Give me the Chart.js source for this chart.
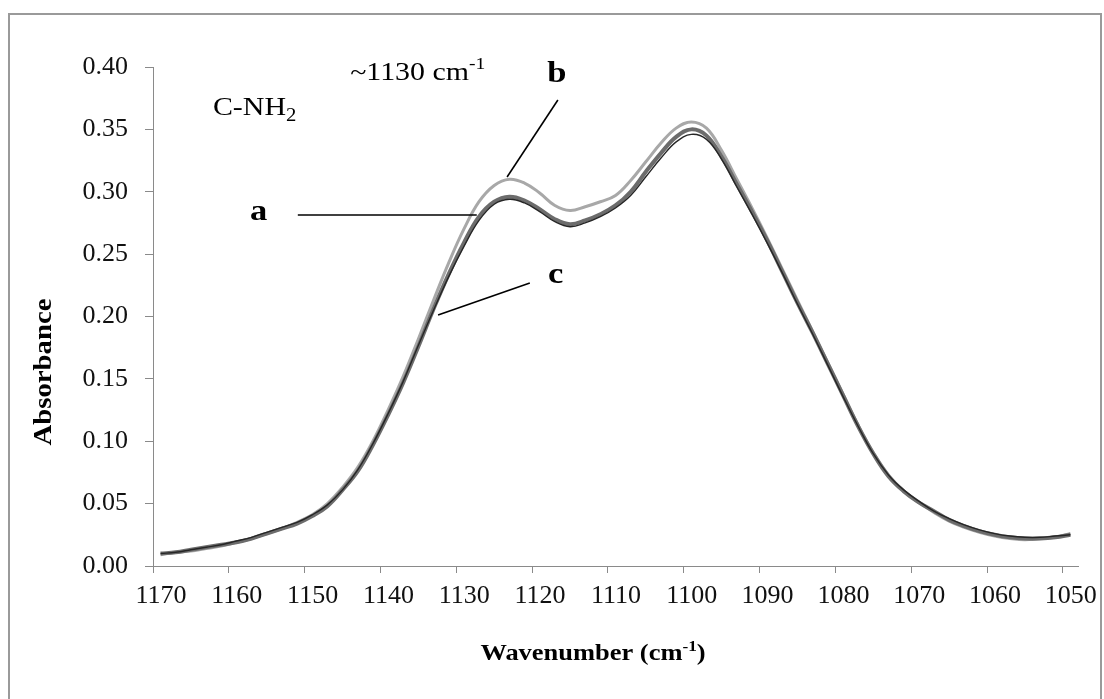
<!DOCTYPE html>
<html>
<head>
<meta charset="utf-8">
<script src="https://cdn.jsdelivr.net/npm/chart.js@4.4.0/dist/chart.umd.min.js"></script>
<style>
  html, body { margin: 0; padding: 0; background: #fff; }
  #wrap { position: relative; width: 1104px; height: 699px; }
</style>
</head>
<body>
<div id="wrap"><canvas id="Chart"></canvas></div>
<script>
// wavenumber (cm-1), every 2 cm-1
const wavenumbers = [1169, 1167, 1165, 1163, 1161, 1159, 1157, 1155, 1153, 1151,
  1149, 1147, 1145, 1143, 1141, 1139, 1137, 1135, 1133, 1131,
  1129, 1127, 1125, 1123, 1121, 1119, 1117, 1115, 1113, 1111,
  1109, 1107, 1105, 1103, 1101, 1099, 1097, 1095, 1093, 1091,
  1089, 1087, 1085, 1083, 1081, 1079, 1077, 1075, 1073, 1071,
  1069, 1067, 1065, 1063, 1061, 1059, 1057, 1055, 1053, 1051, 1049];

const absA = [0.010, 0.011, 0.013, 0.015, 0.017, 0.019, 0.022, 0.026, 0.030, 0.034,
  0.040, 0.048, 0.061, 0.076, 0.097, 0.121, 0.147, 0.176, 0.206, 0.234,
  0.259, 0.280, 0.292, 0.296, 0.293, 0.286, 0.278, 0.274, 0.277, 0.282,
  0.289, 0.300, 0.316, 0.331, 0.344, 0.350, 0.345, 0.328, 0.306, 0.284,
  0.261, 0.236, 0.211, 0.187, 0.162, 0.137, 0.112, 0.090, 0.072, 0.060,
  0.051, 0.044, 0.037, 0.032, 0.028, 0.025, 0.023, 0.022, 0.022, 0.023, 0.025];

const absB = [0.009, 0.011, 0.012, 0.014, 0.016, 0.019, 0.022, 0.026, 0.030, 0.035,
  0.041, 0.050, 0.063, 0.079, 0.100, 0.125, 0.152, 0.182, 0.213, 0.243,
  0.270, 0.292, 0.305, 0.310, 0.307, 0.299, 0.289, 0.285, 0.288, 0.292,
  0.297, 0.309, 0.324, 0.339, 0.351, 0.356, 0.351, 0.333, 0.310, 0.287,
  0.263, 0.238, 0.213, 0.188, 0.163, 0.138, 0.113, 0.091, 0.073, 0.060,
  0.051, 0.043, 0.036, 0.031, 0.027, 0.024, 0.022, 0.021, 0.022, 0.023, 0.026];

const absC = [0.010, 0.011, 0.013, 0.015, 0.017, 0.020, 0.023, 0.027, 0.031, 0.035,
  0.041, 0.049, 0.061, 0.077, 0.098, 0.122, 0.148, 0.177, 0.205, 0.232,
  0.256, 0.277, 0.290, 0.294, 0.291, 0.284, 0.276, 0.272, 0.275, 0.280,
  0.287, 0.297, 0.312, 0.327, 0.340, 0.346, 0.342, 0.326, 0.304, 0.282,
  0.259, 0.235, 0.210, 0.186, 0.161, 0.136, 0.112, 0.090, 0.073, 0.061,
  0.052, 0.044, 0.038, 0.033, 0.029, 0.026, 0.024, 0.023, 0.023, 0.024, 0.025];

const xTickValues = [1170, 1160, 1150, 1140, 1130, 1120, 1110, 1100, 1090, 1080, 1070, 1060, 1050];
const yTickValues = [0, 0.05, 0.10, 0.15, 0.20, 0.25, 0.30, 0.35, 0.40];

const serif = '"Liberation Serif", "Times New Roman", serif';
const STRETCH = 1.15;

function toPoints(ys) {
  return wavenumbers.map((w, i) => ({ x: w, y: ys[i] }));
}

// text in pieces (for sub/superscripts), stretched a bit like the original
function drawParts(ctx, parts, x, y, align) {
  ctx.save();
  let total = 0;
  parts.forEach(p => { ctx.font = p.font; total += ctx.measureText(p.t).width; });
  ctx.translate(x, y);
  ctx.scale(STRETCH, 1);
  let cx = align === 'center' ? -total / 2 : 0;
  ctx.textBaseline = 'alphabetic';
  ctx.textAlign = 'left';
  ctx.fillStyle = '#000';
  parts.forEach(p => {
    ctx.font = p.font;
    ctx.fillText(p.t, cx, p.dy || 0);
    cx += ctx.measureText(p.t).width;
  });
  ctx.restore();
}

const letterFont = 'bold 30px ' + serif;

// notes placed in data coordinates
const notes = [
  { parts: [{ t: 'C-NH', font: '26px ' + serif }, { t: '2', font: '18px ' + serif, dy: 6 }], x: 1162.1, y: 0.3615 },
  { parts: [{ t: '~1130 cm', font: '26px ' + serif }, { t: '-1', font: '17px ' + serif, dy: -11 }], x: 1144.0, y: 0.3896 },
  { parts: [{ t: 'b', font: letterFont }], x: 1118.0, y: 0.388 },
  { parts: [{ t: 'a', font: letterFont }], x: 1157.2, y: 0.2774 },
  { parts: [{ t: 'c', font: letterFont }], x: 1117.9, y: 0.2269 }
];
const leaders = [
  [1116.6, 0.3735, 1123.3, 0.3118],
  [1150.9, 0.2814, 1127.3, 0.2814],
  [1120.3, 0.2269, 1132.4, 0.2012]
];

const notesPlugin = {
  id: 'notes',
  beforeDraw(chart) {
    const ctx = chart.ctx;
    ctx.save();
    ctx.fillStyle = '#fff';
    ctx.fillRect(0, 0, chart.width, chart.height);
    ctx.strokeStyle = '#9a9a9a';
    ctx.lineWidth = 2;
    ctx.strokeRect(9, 14, 1092, 700);
    ctx.restore();
  },
  afterDraw(chart) {
    const ctx = chart.ctx;
    const xs = chart.scales.x, ys = chart.scales.y;
    ctx.save();
    ctx.strokeStyle = '#000';
    ctx.lineWidth = 1.6;
    leaders.forEach(l => {
      ctx.beginPath();
      ctx.moveTo(xs.getPixelForValue(l[0]), ys.getPixelForValue(l[1]));
      ctx.lineTo(xs.getPixelForValue(l[2]), ys.getPixelForValue(l[3]));
      ctx.stroke();
    });
    notes.forEach(n => {
      drawParts(ctx, n.parts, xs.getPixelForValue(n.x), ys.getPixelForValue(n.y), 'left');
    });

    // axis titles
    const titleFont = 'bold 23px ' + serif;
    drawParts(ctx, [{ t: 'Wavenumber (cm', font: titleFont }, { t: '-1', font: 'bold 15px ' + serif, dy: -9 }, { t: ')', font: titleFont }],
      593, 660, 'center');
    ctx.save();
    ctx.translate(51, 372);
    ctx.rotate(-Math.PI / 2);
    drawParts(ctx, [{ t: 'Absorbance', font: 'bold 25px ' + serif }], 0, 0, 'center');
    ctx.restore();
    ctx.restore();
  }
};

const chartData = {
  datasets: [
    { label: 'c', data: toPoints(absC), borderColor: '#262626', borderWidth: 1.4, order: 1 },
    { label: 'a', data: toPoints(absA), borderColor: '#6c6c6c', borderWidth: 4, order: 2 },
    { label: 'b', data: toPoints(absB), borderColor: '#a8a8a8', borderWidth: 3, order: 3 }
  ]
};

const axisColor = '#8a8a8a';

const chartOptions = {
  responsive: true,
  maintainAspectRatio: false,
  animation: false,
  layout: { padding: { left: 0, top: 67, right: 26, bottom: 0 } },
  elements: {
    point: { radius: 0 },
    line: { tension: 0.4, fill: false }
  },
  plugins: {
    legend: { display: false },
    tooltip: { enabled: false }
  },
  scales: {
    x: {
      type: 'linear',
      reverse: true,
      min: 1048,
      max: 1170,
      afterBuildTicks: s => { s.ticks = xTickValues.map(v => ({ value: v })); },
      afterFit: s => { s.height = 133; },
      border: { display: true, color: axisColor, width: 1, dash: [2, 1] },
      grid: { drawOnChartArea: false, drawTicks: true, tickLength: 7, color: axisColor },
      ticks: {
        font: { family: serif, size: 26 },
        color: '#111',
        padding: 8,
        labelOffset: 8,
        maxRotation: 0,
        callback: v => String(v)
      }
    },
    y: {
      min: 0,
      max: 0.4,
      afterBuildTicks: s => { s.ticks = yTickValues.map(v => ({ value: v })); },
      afterFit: s => { s.width = 153; },
      border: { display: true, color: axisColor, width: 1, dash: [3, 1] },
      grid: { drawOnChartArea: false, drawTicks: true, tickLength: 8, color: axisColor },
      ticks: {
        font: { family: serif, size: 26 },
        color: '#111',
        padding: 17,
        callback: v => v.toFixed(2)
      }
    }
  }
};

let chartElement = document.getElementById('Chart').getContext('2d');
let spectraChart = new Chart(chartElement, {
  type: 'line',
  data: chartData,
  options: chartOptions,
  plugins: [notesPlugin]
});
</script>
</body>
</html>
